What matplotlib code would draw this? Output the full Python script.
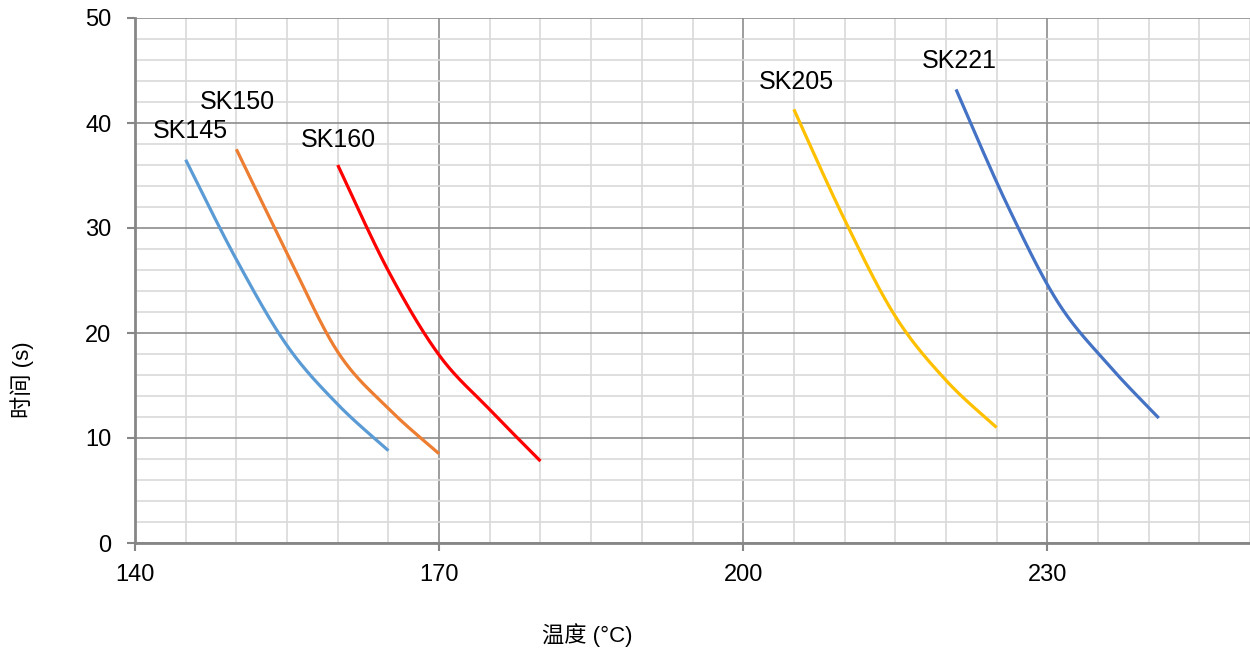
import numpy as np
import matplotlib
matplotlib.use("Agg")
import matplotlib.pyplot as plt

plt.rcParams['font.family'] = ['Liberation Sans', 'Noto Sans CJK SC', 'DejaVu Sans']

series_names = ["SK145", "SK150", "SK160", "SK205", "SK221"]
x_sk145 = [145, 150, 155, 160, 165]
y_sk145 = [36.5, 27.0, 18.8, 13.2, 8.8]
x_sk150 = [150, 155, 160, 165, 170]
y_sk150 = [37.5, 27.6, 18.2, 12.8, 8.5]
x_sk160 = [160, 165, 170, 175, 180]
y_sk160 = [36.0, 25.9, 17.9, 12.7, 7.8]
x_sk205 = [205, 210, 215, 220, 225]
y_sk205 = [41.3, 30.8, 21.6, 15.5, 11.0]
x_sk221 = [221, 226, 231, 236, 241]
y_sk221 = [43.2, 32.3, 23.0, 17.0, 11.9]
colors = ["#5B9BD5", "#ED7D31", "#FF0000", "#FFC000", "#4472C4"]
label_pos = [(145.5, 39.2), (150.1, 42.0), (160.1, 38.4), (205.2, 43.9), (221.3, 45.9)]

xs = [x_sk145, x_sk150, x_sk160, x_sk205, x_sk221]
ys = [y_sk145, y_sk150, y_sk160, y_sk205, y_sk221]


def smooth(x, y, n=40):
    # Catmull-Rom style bezier smoothing (like spreadsheet "smoothed line")
    P = np.column_stack([x, y]).astype(float)
    out = []
    for i in range(len(P) - 1):
        p0 = P[i - 1] if i > 0 else P[i]
        p1 = P[i]
        p2 = P[i + 1]
        p3 = P[i + 2] if i + 2 < len(P) else P[i + 1]
        c1 = p1 + (p2 - p0) / 6.0
        c2 = p2 - (p3 - p1) / 6.0
        t = np.linspace(0, 1, n)[:, None]
        seg = ((1 - t) ** 3) * p1 + 3 * ((1 - t) ** 2) * t * c1 + 3 * (1 - t) * t ** 2 * c2 + t ** 3 * p2
        out.append(seg if i == 0 else seg[1:])
    S = np.vstack(out)
    return S[:, 0], S[:, 1]


fig = plt.figure(figsize=(12.5, 6.52), dpi=100)
ax = fig.add_axes([135 / 1250, 1 - 543 / 652, 1115 / 1250, 525 / 652])

for x, y, c in zip(xs, ys, colors):
    sx, sy = smooth(x, y)
    ax.plot(sx, sy, color=c, lw=2.3, solid_capstyle='butt', zorder=3)

for name, (lx, ly) in zip(series_names, label_pos):
    ax.text(lx, ly, name, ha='center', va='center', fontsize=18, color='black')

ax.set_xlim(140, 250)
ax.set_ylim(0, 50)
ax.set_xticks([140, 170, 200, 230])
ax.set_yticks([0, 10, 20, 30, 40, 50])
ax.set_xticks(np.arange(140, 251, 5), minor=True)
ax.set_yticks(np.arange(0, 51, 2), minor=True)
ax.grid(which='minor', color='#d9d9d9', lw=1.2, zorder=0)
ax.grid(which='major', color='#8c8c8c', lw=1.2, zorder=1)
ax.set_axisbelow(True)
for s in ['top', 'right']:
    ax.spines[s].set_visible(False)
for s in ['left', 'bottom']:
    ax.spines[s].set_color('#868686')
    ax.spines[s].set_linewidth(2)
ax.tick_params(which='major', length=6, width=1.5, color='#868686', labelsize=17)
ax.tick_params(axis='x', which='major', pad=9)
ax.tick_params(axis='y', which='major', pad=11)
ax.tick_params(which='minor', length=0)

fig.text(587 / 1250, 1 - 635 / 652, "温度 (°C)", ha='center', va='center', fontsize=16)
fig.text(22 / 1250, 1 - 380 / 652, "时间 (s)", ha='center', va='center', fontsize=16, rotation=90)

fig.savefig("out.png", dpi=100)
